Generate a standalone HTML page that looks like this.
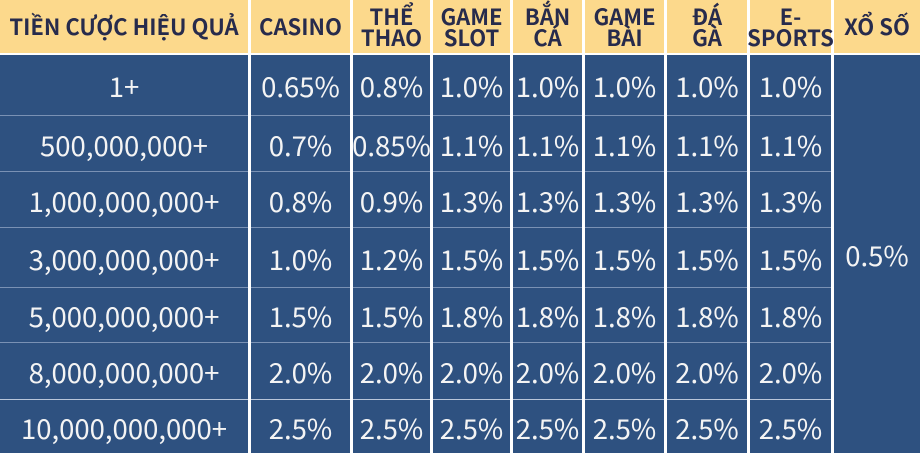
<!DOCTYPE html>
<html>
<head>
<meta charset="utf-8">
<style>
  html, body { margin:0; padding:0; }
  body { width:920px; height:453px; background:#ffffff; position:relative; overflow:hidden; }
  .col { position:absolute; top:0; height:453px; }
  .h {
    height:53px; margin-bottom:2px; background:#fcd98c; color:#272b4c;
    display:flex; align-items:center; justify-content:center; text-align:center;
    font-family:"Noto Sans CJK SC","Liberation Sans",sans-serif; font-weight:700;
    font-size:22px; line-height:21.5px; white-space:nowrap; padding-top:1px; box-sizing:border-box;
  }
  .c {
    background:#2e5180; color:#f4f4f4; box-sizing:border-box;
    border-bottom:1px solid #7a91b4;
    display:flex; align-items:center; justify-content:center;
    font-family:"Noto Sans CJK SC","Liberation Sans",sans-serif;
    font-size:27.5px; white-space:nowrap;
  }
  .r1 { height:61px; }
  .r2 { height:56px; }
  .r3 { height:56px; }
  .r4 { height:60px; }
  .r5 { height:55px; }
  .r6 { height:57px; border-bottom-color:#b9c6da; }
  .r7 { height:53px; border-bottom:none; }
  .big { height:398px; border-bottom:none; }
</style>
</head>
<body>

<div class="col" style="left:0;width:248px">
  <div class="h">TIỀN CƯỢC HIỆU QUẢ</div>
  <div class="c r1">1+</div>
  <div class="c r2">500,000,000+</div>
  <div class="c r3">1,000,000,000+</div>
  <div class="c r4">3,000,000,000+</div>
  <div class="c r5">5,000,000,000+</div>
  <div class="c r6">8,000,000,000+</div>
  <div class="c r7">10,000,000,000+</div>
</div>

<div class="col" style="left:251px;width:99px">
  <div class="h">CASINO</div>
  <div class="c r1">0.65%</div>
  <div class="c r2">0.7%</div>
  <div class="c r3">0.8%</div>
  <div class="c r4">1.0%</div>
  <div class="c r5">1.5%</div>
  <div class="c r6">2.0%</div>
  <div class="c r7">2.5%</div>
</div>

<div class="col" style="left:353px;width:77px">
  <div class="h">THỂ<br>THAO</div>
  <div class="c r1">0.8%</div>
  <div class="c r2">0.85%</div>
  <div class="c r3">0.9%</div>
  <div class="c r4">1.2%</div>
  <div class="c r5">1.5%</div>
  <div class="c r6">2.0%</div>
  <div class="c r7">2.5%</div>
</div>

<div class="col" style="left:433px;width:77px">
  <div class="h">GAME<br>SLOT</div>
  <div class="c r1">1.0%</div>
  <div class="c r2">1.1%</div>
  <div class="c r3">1.3%</div>
  <div class="c r4">1.5%</div>
  <div class="c r5">1.8%</div>
  <div class="c r6">2.0%</div>
  <div class="c r7">2.5%</div>
</div>

<div class="col" style="left:513px;width:69px">
  <div class="h">BẮN<br>CÁ</div>
  <div class="c r1">1.0%</div>
  <div class="c r2">1.1%</div>
  <div class="c r3">1.3%</div>
  <div class="c r4">1.5%</div>
  <div class="c r5">1.8%</div>
  <div class="c r6">2.0%</div>
  <div class="c r7">2.5%</div>
</div>

<div class="col" style="left:585px;width:79px">
  <div class="h">GAME<br>BÀI</div>
  <div class="c r1">1.0%</div>
  <div class="c r2">1.1%</div>
  <div class="c r3">1.3%</div>
  <div class="c r4">1.5%</div>
  <div class="c r5">1.8%</div>
  <div class="c r6">2.0%</div>
  <div class="c r7">2.5%</div>
</div>

<div class="col" style="left:667px;width:80px">
  <div class="h">ĐÁ<br>GÀ</div>
  <div class="c r1">1.0%</div>
  <div class="c r2">1.1%</div>
  <div class="c r3">1.3%</div>
  <div class="c r4">1.5%</div>
  <div class="c r5">1.8%</div>
  <div class="c r6">2.0%</div>
  <div class="c r7">2.5%</div>
</div>

<div class="col" style="left:750px;width:81px">
  <div class="h">E-<br>SPORTS</div>
  <div class="c r1">1.0%</div>
  <div class="c r2">1.1%</div>
  <div class="c r3">1.3%</div>
  <div class="c r4">1.5%</div>
  <div class="c r5">1.8%</div>
  <div class="c r6">2.0%</div>
  <div class="c r7">2.5%</div>
</div>

<div class="col" style="left:834px;width:86px">
  <div class="h">XỔ SỐ</div>
  <div class="c big">0.5%</div>
</div>

</body>
</html>
